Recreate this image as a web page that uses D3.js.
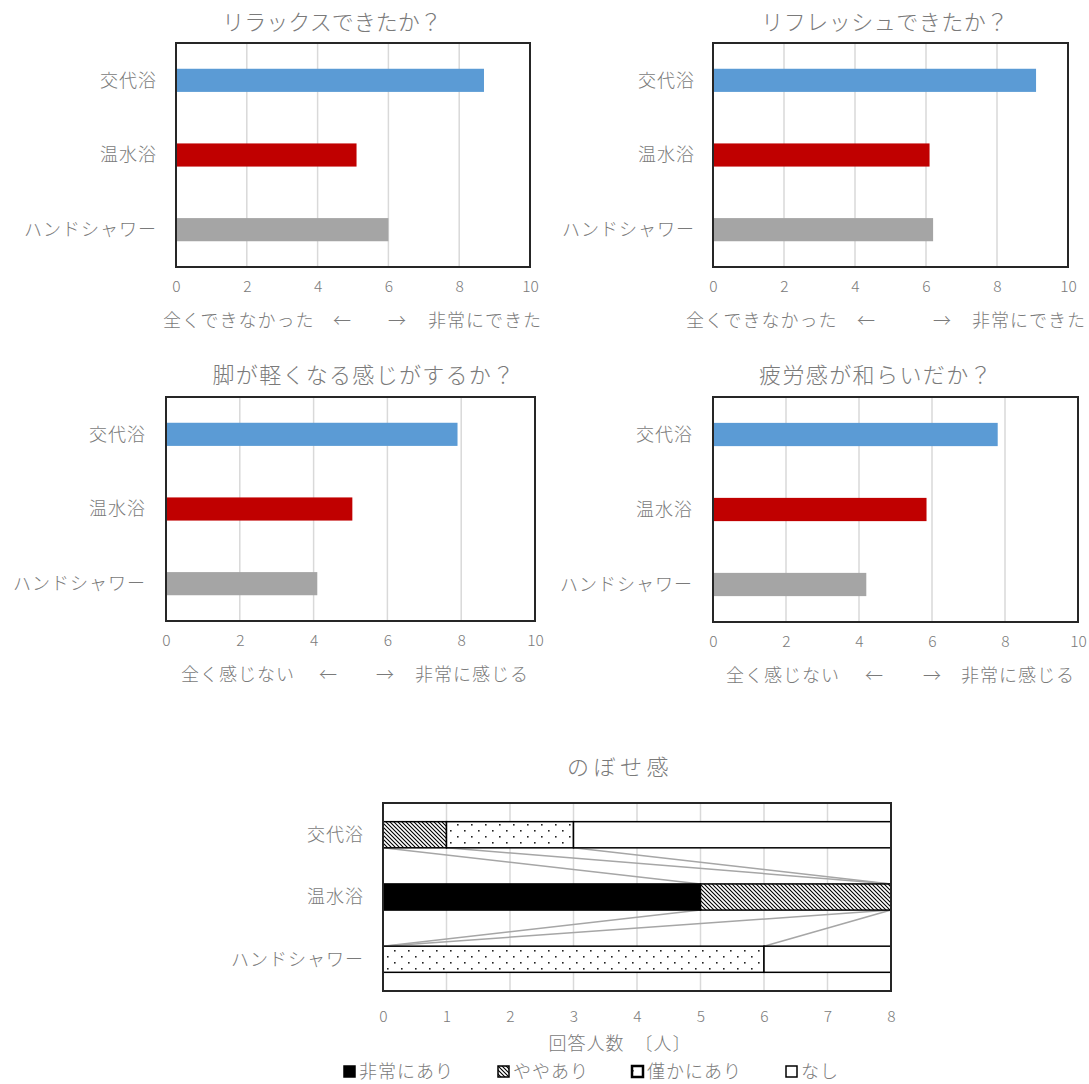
<!DOCTYPE html>
<html><head><meta charset="utf-8">
<script src="https://cdn.jsdelivr.net/npm/d3@7"></script>
<style>
body{margin:0;background:#fff;}
text{font-family:"Noto Sans CJK JP","Noto Sans",sans-serif;fill:#7a7a7a;font-weight:300;}
</style></head>
<body><svg id="c" width="1089" height="1084"></svg>
<script>
const categories = ["交代浴","温水浴","ハンドシャワー"];
const barColors = ["#5B9BD5","#C00000","#A5A5A5"];
const relaxValues = [8.7, 5.1, 6.0];
const refreshValues = [9.1, 6.1, 6.2];
const legsValues = [7.9, 5.05, 4.1];
const fatigueValues = [7.8, 5.85, 4.2];
const scoreTicks = [0,2,4,6,8,10];

const hotSeries = ["非常にあり","ややあり","僅かにあり","なし"];
const hotVery = [0, 5, 0];
const hotSome = [1, 3, 0];
const hotSlight = [2, 0, 6];
const hotNone = [5, 0, 2];
const countTicks = [0,1,2,3,4,5,6,7,8];

const svg = d3.select("#c");
const defs = svg.append("defs");
const hp = defs.append("pattern").attr("id","hatch").attr("patternUnits","userSpaceOnUse")
  .attr("width",4).attr("height",4);
hp.append("rect").attr("width",4).attr("height",4).attr("fill","#fff");
hp.append("path").attr("d","M-1,-1 L5,5 M-1,3 L1,5 M3,-1 L5,1").attr("stroke","#000").attr("stroke-width",1.1);
const dp = defs.append("pattern").attr("id","dots").attr("patternUnits","userSpaceOnUse")
  .attr("width",14).attr("height",12);
dp.append("rect").attr("width",14).attr("height",12).attr("fill","#fff");
dp.append("rect").attr("x",2).attr("y",2).attr("width",1.6).attr("height",1.6).attr("fill","#222");
dp.append("rect").attr("x",9).attr("y",8).attr("width",1.6).attr("height",1.6).attr("fill","#222");

function label(g, x, y, txt, size, anchor, ls){
  return g.append("text").attr("x",x).attr("y",y).attr("dy","0.35em")
    .attr("text-anchor",anchor).style("font-size",size+"px")
    .style("letter-spacing",(ls||0)+"px").text(txt);
}

function scoreChart(cfg){
  const g = svg.append("g");
  const x = d3.scaleLinear().domain([0,10]).range([cfg.x0,cfg.x1]);
  const y = d3.scaleBand().domain(categories).range([cfg.y0,cfg.y1]).paddingInner(0.69).paddingOuter(0.345);
  label(g, cfg.tx, cfg.ty, cfg.title, 22, "middle", cfg.tls);
  g.selectAll(".gl").data(scoreTicks.slice(1,-1)).join("line")
    .attr("x1",d=>x(d)).attr("x2",d=>x(d)).attr("y1",cfg.y0).attr("y2",cfg.y1)
    .attr("stroke","#d9d9d9").attr("stroke-width",1.5);
  g.selectAll(".bar").data(cfg.values).join("rect")
    .attr("x",x(0)).attr("y",(d,i)=>y(categories[i]))
    .attr("width",d=>x(d)-x(0)).attr("height",y.bandwidth())
    .attr("fill",(d,i)=>barColors[i]);
  g.append("rect").attr("x",cfg.x0).attr("y",cfg.y0).attr("width",cfg.x1-cfg.x0).attr("height",cfg.y1-cfg.y0)
    .attr("fill","none").attr("stroke","#262626").attr("stroke-width",2);
  categories.forEach(c=>label(g, cfg.lx, y(c)+y.bandwidth()/2, c, 18, "end", 1));
  const ax = g.append("g").attr("transform",`translate(0,${cfg.y1})`)
    .call(d3.axisBottom(x).tickValues(scoreTicks).tickSize(0).tickPadding(14));
  ax.select(".domain").remove();
  ax.selectAll("text").style("font-size","15.5px").attr("fill","#7a7a7a")
    .style("font-family",'"Noto Sans CJK JP",sans-serif');
  const ly = cfg.y1+54;
  label(g, cfg.a[0], ly, cfg.left, 18, "start", 1);
  label(g, cfg.a[1], ly, "←", 18, "middle");
  label(g, cfg.a[2], ly, "→", 18, "middle");
  label(g, cfg.a[3], ly, cfg.right, 18, "start", 1);
}

scoreChart({title:"リラックスできたか？",values:relaxValues,x0:176,x1:530,y0:43,y1:267,tx:332,ty:22,tls:0,lx:157,
  left:"全くできなかった",right:"非常にできた",a:[163,342,397,428]});
scoreChart({title:"リフレッシュできたか？",values:refreshValues,x0:713,x1:1068,y0:43,y1:267,tx:885,ty:22,tls:0.5,lx:695,
  left:"全くできなかった",right:"非常にできた",a:[686,866,942,972]});
scoreChart({title:"脚が軽くなる感じがするか？",values:legsValues,x0:166,x1:535,y0:397,y1:621,tx:364,ty:375,tls:1.3,lx:146,
  left:"全く感じない",right:"非常に感じる",a:[181,328,385,415]});
scoreChart({title:"疲労感が和らいだか？",values:fatigueValues,x0:713,x1:1078,y0:397,y1:622,tx:876,ty:375,tls:1.4,lx:693,
  left:"全く感じない",right:"非常に感じる",a:[726,874,932,961]});

(function(){
  const g = svg.append("g");
  const X0=383, X1=891, Y0=803, Y1=991;
  const x = d3.scaleLinear().domain([0,8]).range([X0,X1]);
  const y = d3.scaleBand().domain(categories).range([Y0,Y1]).paddingInner(0.58).paddingOuter(0.3);
  const rows = categories.map((c,i)=>({cat:c,"非常にあり":hotVery[i],"ややあり":hotSome[i],"僅かにあり":hotSlight[i],"なし":hotNone[i]}));
  const stack = d3.stack().keys(hotSeries)(rows);
  const fills = ["#000","url(#hatch)","url(#dots)","#fff"];
  label(g, 620, 767, "のぼせ感", 22, "middle", 4.5);
  g.selectAll(".gl").data(countTicks.slice(1,-1)).join("line")
    .attr("x1",d=>x(d)).attr("x2",d=>x(d)).attr("y1",Y0).attr("y2",Y1)
    .attr("stroke","#d9d9d9").attr("stroke-width",1.5);
  const bw = y.bandwidth();
  for(let s=0;s<stack.length;s++){
    for(let i=0;i<categories.length-1;i++){
      g.append("line")
        .attr("x1",x(stack[s][i][1])).attr("y1",y(categories[i])+bw)
        .attr("x2",x(stack[s][i+1][1])).attr("y2",y(categories[i+1]))
        .attr("stroke","#a6a6a6").attr("stroke-width",1.5);
    }
  }
  stack.forEach((ser,si)=>{
    g.selectAll(".s"+si).data(ser).join("rect")
      .attr("x",d=>x(d[0])).attr("width",d=>x(d[1])-x(d[0]))
      .attr("y",d=>y(d.data.cat)).attr("height",bw)
      .attr("fill",fills[si]).attr("stroke","#000").attr("stroke-width",d=>d[1]>d[0]?1.5:0);
  });
  g.append("rect").attr("x",X0).attr("y",Y0).attr("width",X1-X0).attr("height",Y1-Y0)
    .attr("fill","none").attr("stroke","#262626").attr("stroke-width",2);
  categories.forEach(c=>label(g, 364, y(c)+bw/2, c, 18, "end", 1));
  const ax = g.append("g").attr("transform",`translate(0,${Y1})`)
    .call(d3.axisBottom(x).tickValues(countTicks).tickSize(0).tickPadding(20));
  ax.select(".domain").remove();
  ax.selectAll("text").style("font-size","15.5px").attr("fill","#7a7a7a")
    .style("font-family",'"Noto Sans CJK JP",sans-serif');
  label(g, 620, 1044, "回答人数　〔人〕", 18, "middle", 1);
  const lx = [343, 497, 631, 785];
  hotSeries.forEach((s,i)=>{
    g.append("rect").attr("x",lx[i]+1).attr("y",1066).attr("width",11).attr("height",11)
      .attr("fill",fills[i]).attr("stroke","#000").attr("stroke-width",i===2?2.5:1.5);
    label(g, lx[i]+16, 1072, s, 18, "start", 1);
  });
})();
</script></body></html>
